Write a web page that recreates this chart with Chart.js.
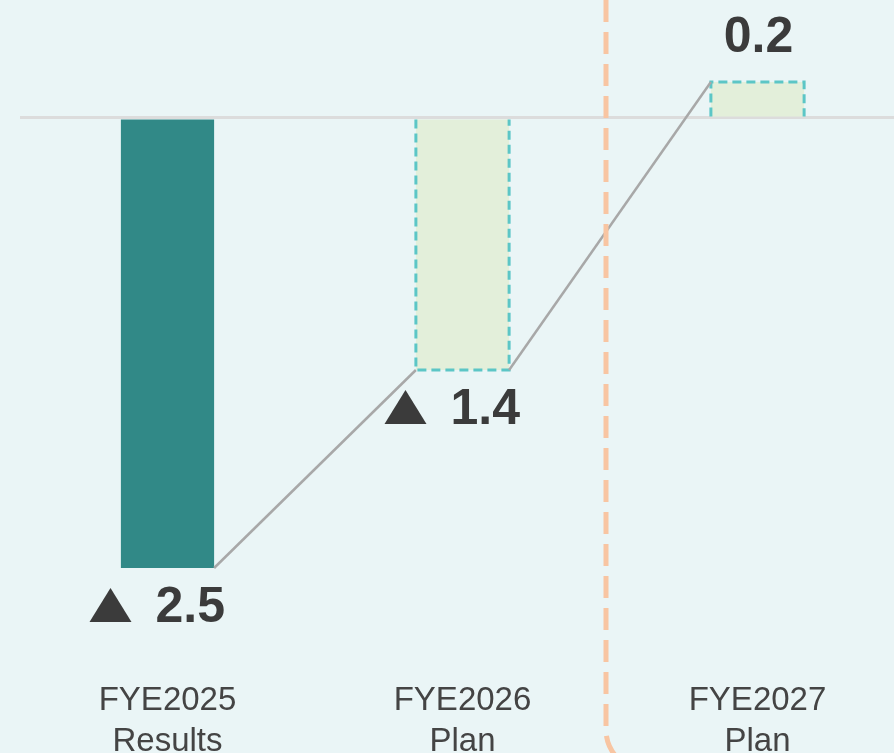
<!DOCTYPE html>
<html>
<head>
<meta charset="utf-8">
<script src="https://cdn.jsdelivr.net/npm/chart.js@4.4.1/dist/chart.umd.min.js"></script>
<style>
html,body{margin:0;padding:0;overflow:hidden;background:#EAF5F6;width:894px;height:753px;}
#wrap{position:absolute;left:0;top:0;width:910px;height:790px;}
</style>
</head>
<body>
<div id="wrap"><canvas id="c" width="910" height="790"></canvas></div>
<script>
const categories = [['FYE2025','Results'], ['FYE2026','Plan'], ['FYE2027','Plan']];
const values = [-2.5, -1.4, 0.2];
const fillColors = ['#318987', '#E3EFDA', '#E3EFDA'];
const dashedBorder = [false, true, true];

const TEXT = '#3B3B3B';

const overlay = {
  id: 'overlay',
  afterDatasetsDraw(chart) {
    const ctx = chart.ctx;
    const meta = chart.getDatasetMeta(0);
    const els = meta.data;
    ctx.save();
    // dashed bar borders
    els.forEach((el, i) => {
      if (!dashedBorder[i]) return;
      const p = el.getProps(['x','y','base','width'], true);
      const l = p.x - p.width/2, r = p.x + p.width/2;
      ctx.strokeStyle = '#5CC6C6';
      ctx.lineWidth = 3;
      ctx.setLineDash([9,5]);
      ctx.beginPath();
      ctx.moveTo(l, p.base); ctx.lineTo(l, p.y); ctx.lineTo(r, p.y); ctx.lineTo(r, p.base);
      ctx.stroke();
    });
    // connectors
    ctx.setLineDash([]);
    ctx.strokeStyle = '#A8A8A8';
    ctx.lineWidth = 2.5;
    for (let i = 0; i < els.length - 1; i++) {
      const a = els[i].getProps(['x','y','width'], true);
      const b = els[i+1].getProps(['x','y','width'], true);
      ctx.beginPath();
      ctx.moveTo(a.x + a.width/2, a.y);
      ctx.lineTo(b.x - b.width/2, b.y);
      ctx.stroke();
    }
    // orange divider
    const x1 = els[1].getProps(['x'], true).x, x2 = els[2].getProps(['x'], true).x;
    const dx = (x1 + x2)/2 - 4;
    ctx.strokeStyle = '#F8C5A2';
    ctx.lineWidth = 5;
    ctx.setLineDash([22,10]);
    ctx.beginPath();
    ctx.moveTo(dx, 0);
    ctx.lineTo(dx, 730);
    ctx.arcTo(dx, 770, dx + 40, 770, 40);
    ctx.stroke();
    ctx.setLineDash([]);
    // value labels
    ctx.fillStyle = TEXT;
    ctx.font = 'bold 50px "Liberation Sans", Arial, sans-serif';
    ctx.textBaseline = 'alphabetic';
    els.forEach((el, i) => {
      const p = el.getProps(['x','y'], true);
      const v = values[i];
      if (v < 0) {
        const base = p.y + 54;
        ctx.textAlign = 'left';
        ctx.fillText(Math.abs(v).toFixed(1), p.x - 12, base);
        // triangle marker
        ctx.beginPath();
        ctx.moveTo(p.x - 78, base);
        ctx.lineTo(p.x - 36, base);
        ctx.lineTo(p.x - 57, base - 34);
        ctx.closePath();
        ctx.fill();
      } else {
        ctx.textAlign = 'center';
        ctx.fillText(v.toFixed(1), p.x + 1, p.y - 30);
      }
    });
    ctx.restore();
  }
};

new Chart(document.getElementById('c'), {
  type: 'bar',
  data: {
    labels: categories,
    datasets: [{
      data: values,
      backgroundColor: fillColors,
      borderWidth: 0,
      barPercentage: 1,
      categoryPercentage: 0.316
    }]
  },
  options: {
    responsive: false,
    animation: false,
    layout: { padding: { left: 20, right: 5, top: 10, bottom: 0 } },
    plugins: { legend: { display: false }, tooltip: { enabled: false } },
    scales: {
      x: {
        grid: { display: false, drawTicks: false },
        border: { display: false },
        afterFit(s) { s.height = 120; },
        ticks: {
          color: '#444',
          padding: 10,
          maxRotation: 0,
          font: { family: '"Liberation Sans", Arial, sans-serif', size: 33, lineHeight: 1.25 }
        }
      },
      y: {
        display: true,
        min: -3.0667,
        max: 0.6,
        afterFit(s) { s.width = 0; },
        ticks: { display: false, stepSize: 0.1 },
        border: { display: false },
        grid: {
          drawTicks: false,
          lineWidth: 3,
          color: ctx => (Math.abs(ctx.tick.value) < 1e-9 ? '#DCDCDC' : 'rgba(0,0,0,0)')
        }
      }
    }
  },
  plugins: [overlay]
});
</script>
</body>
</html>
